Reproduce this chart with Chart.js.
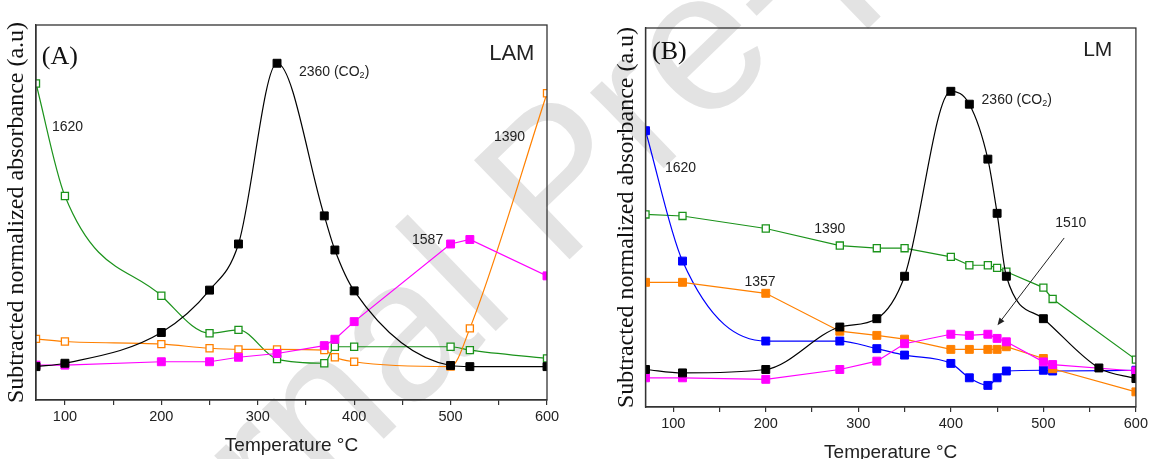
<!DOCTYPE html>
<html>
<head>
<meta charset="utf-8">
<script src="https://cdn.jsdelivr.net/npm/chart.js@4"></script>
<style>
  body { margin: 0; background: #fff; }
  #wrap { position: relative; width: 1149px; height: 459px; overflow: hidden; }
  canvas { position: absolute; top: 0; }
</style>
</head>
<body>
<div id="wrap">
  <canvas id="mark" width="1149" height="459" style="left:0"></canvas>
  <canvas id="chartA" width="572" height="459" style="left:0"></canvas>
  <canvas id="chartB" width="572" height="466" style="left:579px"></canvas>
</div>
<script>
// x axis tick positions (labels only on the hundreds)
const xTicks = [100, 150, 200, 250, 300, 350, 400, 450, 500, 550, 600];

// (A) LAM
const tempA  = [70, 100, 200, 250, 280, 320, 369, 380, 400, 500, 520, 600];
const co2A   = [8.9, 9.8, 18.0, 29.3, 41.6, 89.8, 49.1, 40.0, 29.1, 9.2, 8.9, 8.9];
const b1620A = [84.4, 54.4, 27.8, 17.8, 18.7, 10.9, 9.8, 14.2, 14.2, 14.2, 13.3, 11.1];
const b1390A = [16.3, 15.6, 14.9, 13.8, 13.5, 13.5, 13.3, 11.4, 10.2, 8.9, 19.1, 81.8];
const b1587A = [9.3, 9.3, 10.2, 10.2, 11.4, 12.4, 14.5, 16.2, 20.9, 41.6, 42.8, 33.1];

// (B) LM
const tempB  = [70, 110, 200, 280, 320, 350, 400, 420, 440, 450, 460, 500, 510, 560, 600];
const co2B   = [9.9, 9.0, 9.9, 21.1, 23.3, 34.5, 83.3, 79.9, 65.4, 51.1, 34.5, 23.3, null, 10.3, 7.5];
const b1620B = [72.9, 38.5, 17.4, 17.4, 15.4, 13.7, 11.5, 7.7, 5.7, 7.7, 9.5, 9.7, 9.5, null, 9.7];
const b1390B = [50.8, 50.4, 47.1, 42.6, 41.9, 41.9, 39.6, 37.4, 37.4, 36.7, 35.7, 31.5, 28.5, null, 12.5];
const b1357B = [32.9, 32.9, 30.0, 20.0, 18.9, 17.9, 15.2, 15.2, 15.2, 15.2, 15.9, 12.8, 10.1, null, 4.0];
const b1510B = [7.7, 7.7, 7.3, 9.9, 12.1, 16.7, 19.2, 18.9, 19.2, 18.1, 17.2, 11.9, 11.2, null, 9.5];

const BLACK = '#000000', GREEN = '#1b931b', ORANGE = '#ff8000', MAGENTA = '#ff00ff', BLUE = '#0000ff';
const SANS = '"Liberation Sans", Arial, sans-serif';
const SERIF = '"Liberation Serif", "Times New Roman", serif';

// faint watermark behind both panels
const wm = document.getElementById('mark').getContext('2d');
wm.save();
wm.translate(46, 765);
wm.rotate(-44 * Math.PI / 180);
wm.font = '200px ' + SANS;
wm.fillStyle = '#e3e3e3';
wm.fillText('Journal Pre-proof', 0, 0);
wm.restore();

const pts = (xs, ys) => xs.map((x, i) => ({ x: x, y: ys[i] }));

function series(xs, ys, color, extra) {
  return Object.assign({
    data: pts(xs, ys),
    borderColor: color,
    backgroundColor: color,
    pointBackgroundColor: color,
    pointBorderColor: color,
    borderWidth: 1.2,
    pointStyle: 'rect',
    pointRadius: 5.6,
    pointBorderWidth: 1,
    tension: 0,
    spanGaps: true,
    clip: 0
  }, extra || {});
}
const smooth = { cubicInterpolationMode: 'monotone' };
const hollow = { pointBackgroundColor: '#ffffff', pointRadius: 5, pointBorderWidth: 1.3 };

// box round the plot area
const frame = {
  id: 'frame',
  afterDraw(chart) {
    const a = chart.chartArea, ctx = chart.ctx;
    ctx.save();
    ctx.strokeStyle = '#333';
    ctx.lineWidth = 1.3;
    ctx.strokeRect(a.left, a.top, a.right - a.left, a.bottom - a.top);
    ctx.restore();
  }
};

// band labels, panel letters and arrows, placed in data units
const annotate = {
  id: 'annotate',
  afterDatasetsDraw(chart, args, opts) {
    const ctx = chart.ctx, x = chart.scales.x, y = chart.scales.y;
    ctx.save();
    ctx.textBaseline = 'middle';
    ctx.textAlign = 'left';
    (opts.texts || []).forEach(t => {
      let px = x.getPixelForValue(t.x), py = y.getPixelForValue(t.y);
      ctx.fillStyle = t.color || '#222';
      ctx.font = t.font;
      ctx.fillText(t.text, px, py);
      if (t.sub) {
        px += ctx.measureText(t.text).width;
        ctx.font = t.subFont;
        ctx.fillText(t.sub, px, py + 4);
        px += ctx.measureText(t.sub).width;
        ctx.font = t.font;
        ctx.fillText(t.after, px, py);
      }
    });
    (opts.arrows || []).forEach(a => {
      const x0 = x.getPixelForValue(a.from[0]), y0 = y.getPixelForValue(a.from[1]);
      const x1 = x.getPixelForValue(a.to[0]), y1 = y.getPixelForValue(a.to[1]);
      const ang = Math.atan2(y1 - y0, x1 - x0), head = 8;
      ctx.strokeStyle = '#222';
      ctx.fillStyle = '#222';
      ctx.lineWidth = 1;
      ctx.beginPath();
      ctx.moveTo(x0, y0);
      ctx.lineTo(x1 - Math.cos(ang) * head * 0.8, y1 - Math.sin(ang) * head * 0.8);
      ctx.stroke();
      ctx.beginPath();
      ctx.moveTo(x1, y1);
      ctx.lineTo(x1 - head * Math.cos(ang - 0.4), y1 - head * Math.sin(ang - 0.4));
      ctx.lineTo(x1 - head * Math.cos(ang + 0.4), y1 - head * Math.sin(ang + 0.4));
      ctx.closePath();
      ctx.fill();
    });
    ctx.restore();
  }
};

function options(padding, notes) {
  return {
    responsive: false,
    animation: false,
    layout: { padding: padding },
    plugins: {
      legend: { display: false },
      tooltip: { enabled: false },
      annotate: notes
    },
    scales: {
      x: {
        type: 'linear',
        min: 70,
        max: 600,
        afterBuildTicks: s => { s.ticks = xTicks.map(v => ({ value: v })); },
        ticks: {
          autoSkip: false,
          maxRotation: 0,
          padding: 3,
          color: '#222',
          font: { family: SANS, size: 14.5 },
          callback: v => (v % 100 === 0 ? String(v) : '')
        },
        grid: { drawOnChartArea: false, drawTicks: true, tickLength: 5, color: '#333', lineWidth: 1.2 },
        border: { color: '#333', width: 1.3 },
        title: {
          display: true,
          text: 'Temperature °C',
          color: '#222',
          font: { family: SANS, size: 19 },
          padding: { top: 0, bottom: 2 }
        },
        afterFit: s => { s.height = 59; }
      },
      y: {
        min: 0,
        max: 100,
        ticks: { display: false },
        grid: { display: false },
        border: { color: '#333', width: 1.3 },
        title: {
          display: true,
          text: 'Subtracted normalized absorbance (a.u)',
          color: '#111',
          font: { family: SERIF, size: 24 },
          padding: { top: 2.6, bottom: 0 }
        },
        afterFit: s => { s.width = 36; }
      }
    }
  };
}

const labelFont = '14px ' + SANS;
const co2Label = (x, y) => ({ text: '2360 (CO', sub: '2', after: ')', x: x, y: y, font: labelFont, subFont: '9px ' + SANS });

new Chart(document.getElementById('chartA'), {
  type: 'line',
  data: {
    datasets: [
      series(tempA, co2A, BLACK, smooth),
      series(tempA, b1587A, MAGENTA),
      series(tempA, b1390A, ORANGE, Object.assign({}, smooth, hollow)),
      series(tempA, b1620A, GREEN, Object.assign({}, smooth, hollow))
    ]
  },
  options: options({ left: 0, right: 25, top: 25, bottom: 0 }, {
    texts: [
      { text: '(A)', x: 76, y: 91.5, font: '26px ' + SERIF, color: '#111' },
      { text: 'LAM', x: 540, y: 92.3, font: '22px ' + SANS, color: '#222' },
      { text: '1620', x: 86.6, y: 72.8, font: labelFont },
      co2Label(342.7, 87.5),
      { text: '1587', x: 460, y: 42.7, font: labelFont },
      { text: '1390', x: 545, y: 70.1, font: labelFont }
    ]
  }),
  plugins: [annotate, frame]
});

new Chart(document.getElementById('chartB'), {
  type: 'line',
  data: {
    datasets: [
      series(tempB, co2B, BLACK, smooth),
      series(tempB, b1510B, MAGENTA),
      series(tempB, b1357B, ORANGE),
      series(tempB, b1620B, BLUE, smooth),
      series(tempB, b1390B, GREEN, hollow)
    ]
  },
  options: options({ left: 30.5, right: 13, top: 28, bottom: 0 }, {
    texts: [
      { text: '(B)', x: 77, y: 93.7, font: '26px ' + SERIF, color: '#111' },
      { text: 'LM', x: 543, y: 94.2, font: '21px ' + SANS, color: '#222' },
      { text: '1620', x: 91, y: 63.1, font: labelFont },
      { text: '1390', x: 252.3, y: 47.0, font: labelFont },
      { text: '1357', x: 177, y: 33.0, font: labelFont },
      co2Label(433.2, 81.0),
      { text: '1510', x: 512.8, y: 48.5, font: labelFont }
    ],
    arrows: [{ from: [522.5, 44.6], to: [450.4, 21.6] }]
  }),
  plugins: [annotate, frame]
});
</script>
</body>
</html>
